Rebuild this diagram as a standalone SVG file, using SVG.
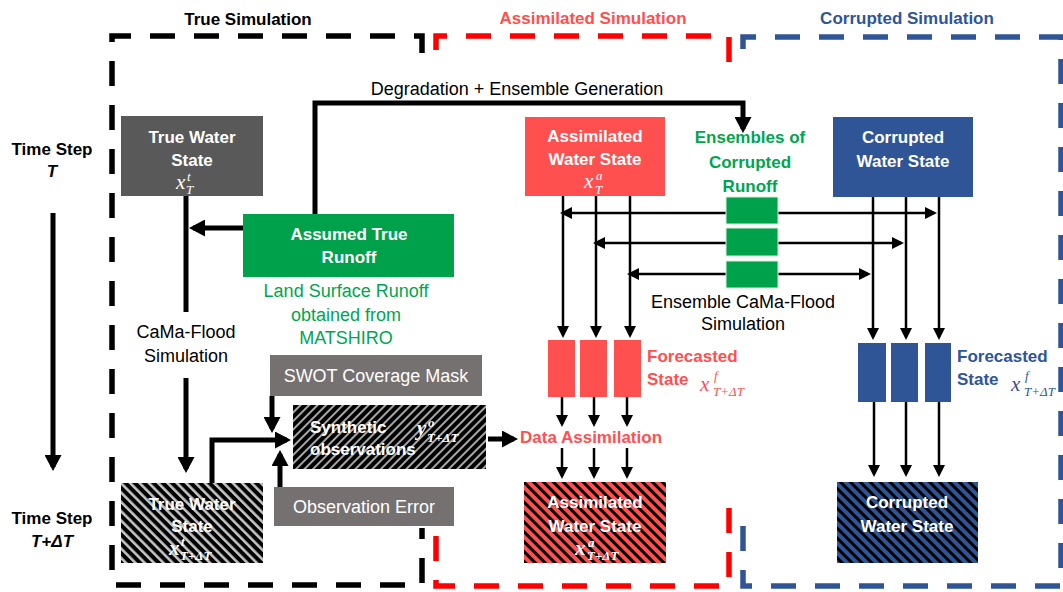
<svg xmlns="http://www.w3.org/2000/svg" width="1063" height="592" viewBox="0 0 1063 592">
<defs>
<style>
.t{font-family:"Liberation Sans",Arial,sans-serif}
.r{font-size:18px}
.b{font-size:17px;font-weight:bold}
.c{text-anchor:middle}
.w{fill:#fff}
.g{fill:#00A550}
.rd{fill:#FF5050}
.bl{fill:#2F5597}
.m{font-family:"Liberation Serif","DejaVu Serif",serif;font-style:italic}
.mx{font-size:21px}
.ms{font-size:13px}
.thick{stroke:#000;stroke-width:5;fill:none}
.thin{stroke:#000;stroke-width:2.5;fill:none}
.frame{fill:none;stroke-width:5.5;stroke-dasharray:25 19}
</style>
<marker id="ahK" viewBox="0 0 16 17" refX="12" refY="8.5" markerWidth="16" markerHeight="17" markerUnits="userSpaceOnUse" orient="auto"><path d="M0,0 L16,8.5 L0,17 z" fill="#000"/></marker>
<marker id="ahT" viewBox="0 0 12 12" refX="9" refY="6" markerWidth="12" markerHeight="12" markerUnits="userSpaceOnUse" orient="auto"><path d="M0,0 L12,6 L0,12 z" fill="#000"/></marker>
<pattern id="hGray" width="6.6" height="10" patternUnits="userSpaceOnUse" patternTransform="rotate(-45)"><rect width="6.6" height="10" fill="#000"/><rect width="2.6" height="10" fill="#c4c4c4"/></pattern>
<pattern id="hGray2" width="6" height="10" patternUnits="userSpaceOnUse" patternTransform="rotate(45)"><rect width="6" height="10" fill="#000"/><rect width="2" height="10" fill="#a6a6a6"/></pattern>
<pattern id="hRed" width="7" height="10" patternUnits="userSpaceOnUse" patternTransform="rotate(-45)"><rect width="7" height="10" fill="#FF5050"/><rect width="3" height="10" fill="#000"/></pattern>
<pattern id="hBlue" width="7" height="10" patternUnits="userSpaceOnUse" patternTransform="rotate(-45)"><rect width="7" height="10" fill="#2F5597"/><rect width="3" height="10" fill="#000"/></pattern>
</defs>
<rect width="1063" height="592" fill="#fff"/>

<g id="frames">
<path d="M422,53 V36 H112 V585 H422 V528" class="frame" stroke="#000"/>
<path d="M436,50 V36 H729 V66" class="frame" stroke="#FF0000" stroke-dasharray="22 21"/>
<path d="M729,508 V586 H436 V528" class="frame" stroke="#FF0000" stroke-dasharray="22 21"/>
<path d="M743,49 V37 H1061 V586 H743 V516" class="frame" stroke="#2F5597" stroke-dasharray="23 20"/>
<text class="t b c" x="248" y="25">True Simulation</text>
<text class="t b c rd" x="593" y="24">Assimilated Simulation</text>
<text class="t b c bl" x="907" y="24">Corrupted Simulation</text>
</g>

<g id="timesteps">
<text class="t b c" x="52" y="155">Time Step</text>
<text class="t b c" x="52" y="177" font-style="italic">T</text>
<text class="t b c" x="52" y="524">Time Step</text>
<text class="t b c" x="52" y="547" font-style="italic">T+ΔT</text>
</g>

<g id="connectors">
<line x1="53" y1="213" x2="53" y2="467" class="thick" stroke-width="6" marker-end="url(#ahK)"/>
<path d="M315,214 V103 H743 V129" class="thick" marker-end="url(#ahK)"/>
<line x1="243" y1="228" x2="193" y2="228" class="thick" marker-end="url(#ahK)"/>
<line x1="186" y1="196" x2="186" y2="312" class="thick"/>
<line x1="186" y1="378" x2="186" y2="469" class="thick" marker-end="url(#ahK)"/>
<line x1="272" y1="396" x2="272" y2="429" class="thick" marker-end="url(#ahK)"/>
<line x1="280" y1="487" x2="280" y2="454" class="thick" marker-end="url(#ahK)"/>
<path d="M212,483 V440 H287" class="thick" marker-end="url(#ahK)"/>
<line x1="488" y1="439" x2="514" y2="439" class="thick" marker-end="url(#ahK)"/>
<line x1="726" y1="213" x2="563" y2="213" class="thin" marker-end="url(#ahT)"/>
<line x1="778" y1="213" x2="934" y2="213" class="thin" marker-end="url(#ahT)"/>
<line x1="726" y1="243" x2="596" y2="243" class="thin" marker-end="url(#ahT)"/>
<line x1="778" y1="243" x2="901" y2="243" class="thin" marker-end="url(#ahT)"/>
<line x1="726" y1="274" x2="630" y2="274" class="thin" marker-end="url(#ahT)"/>
<line x1="778" y1="274" x2="868" y2="274" class="thin" marker-end="url(#ahT)"/>
<line x1="563" y1="196" x2="563" y2="335" class="thin" marker-end="url(#ahT)"/>
<line x1="596" y1="196" x2="596" y2="335" class="thin" marker-end="url(#ahT)"/>
<line x1="630" y1="196" x2="630" y2="335" class="thin" marker-end="url(#ahT)"/>
<line x1="873" y1="197" x2="873" y2="337" class="thin" marker-end="url(#ahT)"/>
<line x1="906" y1="197" x2="906" y2="337" class="thin" marker-end="url(#ahT)"/>
<line x1="939" y1="197" x2="939" y2="337" class="thin" marker-end="url(#ahT)"/>
<line x1="562" y1="397" x2="562" y2="424" class="thin" marker-end="url(#ahT)"/>
<line x1="594" y1="397" x2="594" y2="424" class="thin" marker-end="url(#ahT)"/>
<line x1="627" y1="397" x2="627" y2="424" class="thin" marker-end="url(#ahT)"/>
<line x1="562" y1="448" x2="562" y2="476" class="thin" marker-end="url(#ahT)"/>
<line x1="594" y1="448" x2="594" y2="476" class="thin" marker-end="url(#ahT)"/>
<line x1="627" y1="448" x2="627" y2="476" class="thin" marker-end="url(#ahT)"/>
<line x1="874" y1="402" x2="874" y2="474" class="thin" marker-end="url(#ahT)"/>
<line x1="906" y1="402" x2="906" y2="474" class="thin" marker-end="url(#ahT)"/>
<line x1="939" y1="402" x2="939" y2="474" class="thin" marker-end="url(#ahT)"/>
<text class="t r c" x="517" y="95">Degradation + Ensemble Generation</text>
<text class="t r c" x="186" y="338">CaMa-Flood</text>
<text class="t r c" x="186" y="362">Simulation</text>
<text class="t r c" x="743" y="308">Ensemble CaMa-Flood</text>
<text class="t r c" x="743" y="330">Simulation</text>
<text class="t b rd" x="520" y="443">Data Assimilation</text>
</g>

<g id="trueWaterState">
<rect x="121" y="116" width="142" height="80" fill="#595959"/>
<text class="t b c w" x="192" y="143">True Water</text>
<text class="t b c w" x="192" y="166">State</text>
<text class="m w"><tspan class="mx" x="176" y="189">x</tspan><tspan class="ms" x="187" y="181">t</tspan><tspan class="ms" x="186" y="194">T</tspan></text>
</g>

<g id="assumedTrueRunoff">
<rect x="243" y="214" width="211" height="63" fill="#00A14B"/>
<text class="t b c w" x="349" y="240">Assumed True</text>
<text class="t b c w" x="349" y="263">Runoff</text>
<text class="t r c g" x="346" y="297">Land Surface Runoff</text>
<text class="t r c g" x="346" y="321">obtained from</text>
<text class="t r c g" x="346" y="344">MATSHIRO</text>
</g>

<g id="swotMask">
<rect x="270" y="355" width="212" height="41" fill="#767171"/>
<text class="t r c w" x="376" y="382">SWOT Coverage Mask</text>
</g>

<g id="syntheticObs">
<rect x="293" y="405" width="193" height="64" fill="url(#hGray2)"/>
<text class="t b w" x="310" y="433">Synthetic</text>
<text class="t b w" x="310" y="455">observations</text>
<text class="m w" font-weight="bold"><tspan class="mx" x="417" y="435">y</tspan><tspan class="ms" x="428" y="427">o</tspan><tspan class="ms" x="427" y="442">T+ΔT</tspan></text>
</g>

<g id="observationError">
<rect x="274" y="487" width="180" height="39" fill="#767171"/>
<text class="t r c w" x="364" y="513">Observation Error</text>
</g>

<g id="trueWaterStateNext">
<rect x="121" y="483" width="142" height="80" fill="url(#hGray)"/>
<text class="t b c w" x="192" y="510">True Water</text>
<text class="t b c w" x="192" y="532">State</text>
<text class="m w" font-weight="bold"><tspan class="mx" x="169" y="555">x</tspan><tspan class="ms" x="181" y="546">t</tspan><tspan class="ms" x="180" y="560">T+ΔT</tspan></text>
</g>

<g id="assimilatedWaterState">
<rect x="525" y="117" width="140" height="79" fill="#FF5050"/>
<text class="t b c w" x="595" y="142">Assimilated</text>
<text class="t b c w" x="595" y="165">Water State</text>
<text class="m w"><tspan class="mx" x="584" y="188">x</tspan><tspan class="ms" x="596" y="180">a</tspan><tspan class="ms" x="595" y="194">T</tspan></text>
</g>

<g id="ensemblesRunoff">
<text class="t b c g" x="750" y="143">Ensembles of</text>
<text class="t b c g" x="750" y="168">Corrupted</text>
<text class="t b c g" x="750" y="192">Runoff</text>
<rect x="726" y="197" width="52" height="27" fill="#00A14B" stroke="#d8eed8" stroke-width="1"/>
<rect x="726" y="228" width="52" height="28" fill="#00A14B" stroke="#d8eed8" stroke-width="1"/>
<rect x="726" y="261" width="52" height="27" fill="#00A14B" stroke="#d8eed8" stroke-width="1"/>
</g>

<g id="corruptedWaterState">
<rect x="833" y="117" width="140" height="80" fill="#2F5597"/>
<text class="t b c w" x="903" y="143">Corrupted</text>
<text class="t b c w" x="903" y="167">Water State</text>
</g>

<g id="forecastAssim">
<rect x="548" y="340" width="27" height="57" fill="#FF5050"/>
<rect x="580" y="340" width="27" height="57" fill="#FF5050"/>
<rect x="614" y="340" width="27" height="57" fill="#FF5050"/>
<text class="t b rd" x="647" y="362">Forecasted</text>
<text class="t b rd" x="647" y="385">State</text>
<text class="m rd"><tspan class="mx" x="700" y="391">x</tspan><tspan class="ms" x="714" y="380">f</tspan><tspan class="ms" x="713" y="396">T+ΔT</tspan></text>
</g>

<g id="forecastCorrupt">
<rect x="858" y="343" width="28" height="59" fill="#2F5597"/>
<rect x="891" y="343" width="27" height="59" fill="#2F5597"/>
<rect x="925" y="343" width="26" height="59" fill="#2F5597"/>
<text class="t b bl" x="957" y="362">Forecasted</text>
<text class="t b bl" x="957" y="385">State</text>
<text class="m bl"><tspan class="mx" x="1011" y="391">x</tspan><tspan class="ms" x="1025" y="380">f</tspan><tspan class="ms" x="1024" y="396">T+ΔT</tspan></text>
</g>

<g id="assimilatedWaterStateNext">
<rect x="524" y="482" width="142" height="81" fill="url(#hRed)"/>
<text class="t b c w" x="595" y="508">Assimilated</text>
<text class="t b c w" x="595" y="532">Water State</text>
<text class="m w" font-weight="bold"><tspan class="mx" x="575" y="555">x</tspan><tspan class="ms" x="588" y="547">a</tspan><tspan class="ms" x="587" y="560">T+ΔT</tspan></text>
</g>

<g id="corruptedWaterStateNext">
<rect x="837" y="482" width="141" height="81" fill="url(#hBlue)"/>
<text class="t b c w" x="907" y="508">Corrupted</text>
<text class="t b c w" x="907" y="532">Water State</text>
</g>
</svg>
